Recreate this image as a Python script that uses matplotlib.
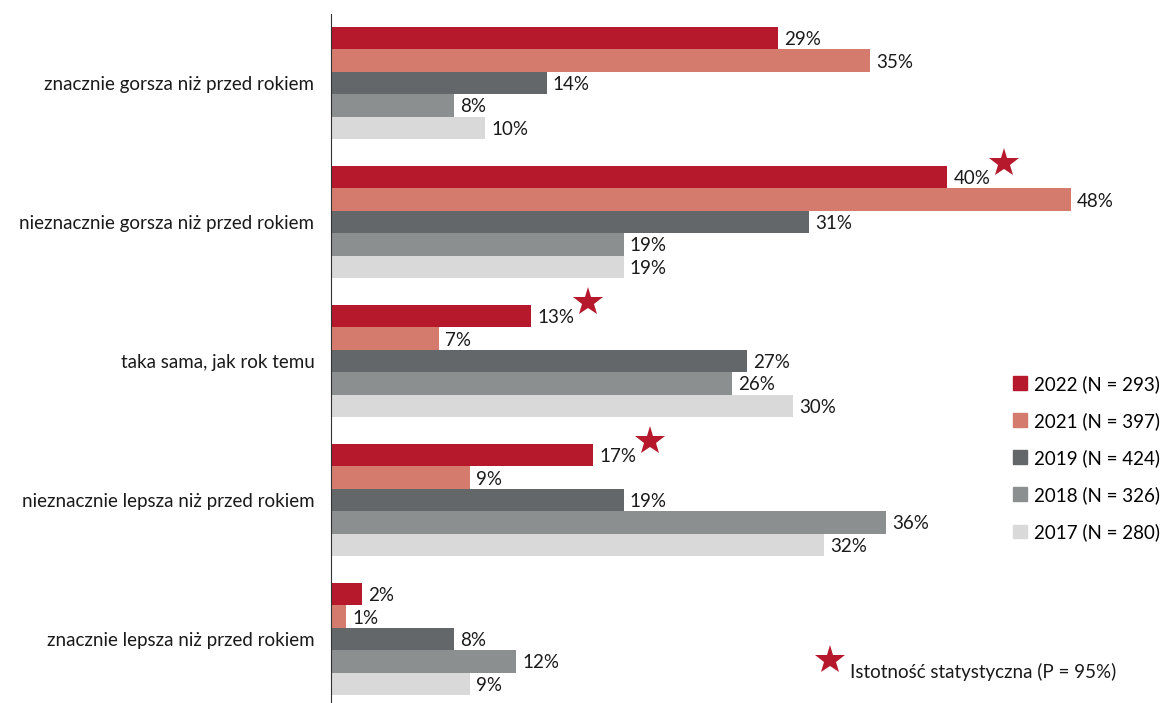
import numpy as np
import matplotlib.pyplot as plt
from matplotlib.patches import Patch

plt.rcParams['font.family'] = ['Lato', 'DejaVu Sans']

categories = ['znacznie gorsza niż przed rokiem',
              'nieznacznie gorsza niż przed rokiem',
              'taka sama, jak rok temu',
              'nieznacznie lepsza niż przed rokiem',
              'znacznie lepsza niż przed rokiem']
series_names = ['2022 (N = 293)', '2021 (N = 397)', '2019 (N = 424)',
                '2018 (N = 326)', '2017 (N = 280)']
v2022 = [29, 40, 13, 17, 2]
v2021 = [35, 48, 7, 9, 1]
v2019 = [14, 31, 27, 19, 8]
v2018 = [8, 19, 26, 36, 12]
v2017 = [10, 19, 30, 32, 9]
significant_2022 = [False, True, True, True, False]

colors = ['#B5192B', '#D47B6E', '#63676A', '#8C8F8F', '#D9D9D9']
star_color = '#B5192B'
fs = 13.5

W, H = 1163, 703
fig = plt.figure(figsize=(W / 100, H / 100), dpi=100)
ax = fig.add_axes([331 / W, -5.5 / H, 832 / W, 695 / H])

series = [v2022, v2021, v2019, v2018, v2017]
y = np.arange(len(categories))
bh = 0.161
for k, vals in enumerate(series):
    pos = y + (k - 2) * bh
    ax.barh(pos, vals, height=bh, color=colors[k], label=series_names[k])
    for p, v in zip(pos, vals):
        ax.text(v + 0.4, p + 0.01, f'{v}%', va='center', ha='left', fontsize=fs, color='#1a1a1a')

for i, sig in enumerate(significant_2022):
    if sig:
        ax.plot(v2022[i] + 3.7, y[i] - 2 * bh - 0.1, marker='*', markersize=22,
                color=star_color, clip_on=False, markeredgewidth=0)

ax.set_xlim(0, 54)
ax.set_ylim(len(categories) - 0.5, -0.5)
ax.set_yticks(y)
ax.set_yticklabels(categories, fontsize=fs, color='#1a1a1a')
ax.tick_params(axis='y', length=0, pad=12)
ax.set_xticks([])
for s in ['top', 'right', 'bottom']:
    ax.spines[s].set_visible(False)
ax.spines['left'].set_color('#333333')

handles = [Patch(color=c) for c in colors]
ax.legend(handles, series_names, loc='upper left', bbox_to_anchor=(996 / W, 1 - 358 / H),
          bbox_transform=fig.transFigure, frameon=False, fontsize=fs,
          handlelength=0.75, handleheight=0.75, handletextpad=0.35, labelspacing=1.02)

fig.lines.append(plt.Line2D([830 / W], [1 - 660 / H], marker='*', markersize=22,
                            color=star_color, markeredgewidth=0, transform=fig.transFigure))
fig.text(850 / W, 1 - 672 / H, 'Istotność statystyczna (P = 95%)', fontsize=fs,
         va='center', ha='left', color='#1a1a1a')

plt.savefig('out.png', dpi=100)
